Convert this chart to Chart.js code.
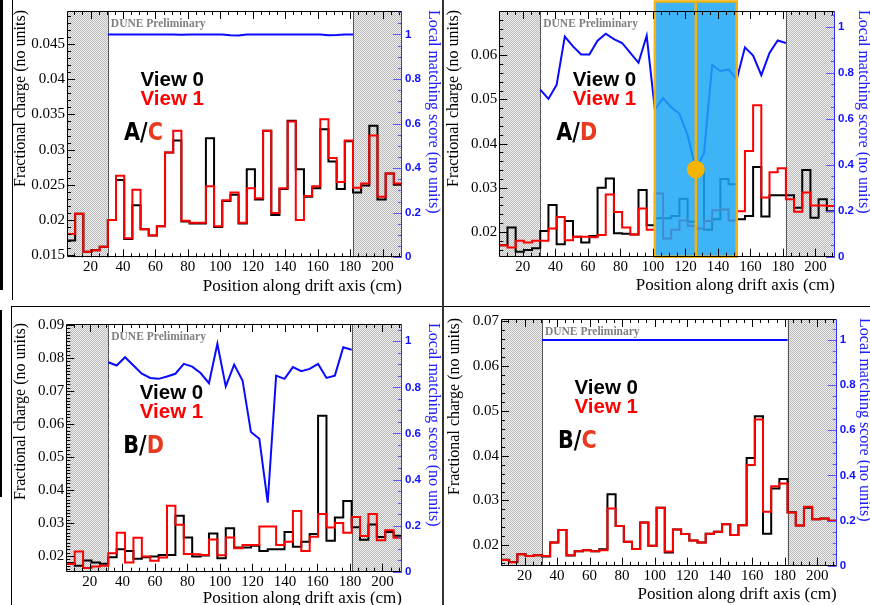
<!DOCTYPE html>
<html><head><meta charset="utf-8">
<script src="https://cdn.jsdelivr.net/npm/chart.js@4.4.1/dist/chart.umd.min.js"></script>
<style>
html,body{margin:0;padding:0;background:#fff}
body{width:870px;height:605px;overflow:hidden;position:relative}
canvas{position:absolute}
.ln{position:absolute;background:#000}
</style></head><body>
<canvas id="c1"></canvas><canvas id="c2"></canvas><canvas id="c3"></canvas><canvas id="c4"></canvas>
<div class="ln" style="left:0;top:0;width:3px;height:290px"></div>
<div class="ln" style="left:12px;top:0;width:1px;height:300px"></div>
<div class="ln" style="left:0;top:310px;width:2px;height:187px"></div>
<div class="ln" style="left:11px;top:306px;width:1px;height:299px"></div>
<div class="ln" style="left:11px;top:306px;width:859px;height:1px"></div>
<div class="ln" style="left:442px;top:0;width:2px;height:605px;background:#333"></div>
<script>
// ---------------- data ----------------
const binLow = 5.5, binHigh = 212;          // histogram range (cm)
const vetoLowBins = 5, vetoHighBins = 6;     // hatched bins at each end
const xTicks = [20,40,60,80,100,120,140,160,180,200];
const scoreTicks = [0,0.2,0.4,0.6,0.8,1];

const ticksAC = [0.015,0.02,0.025,0.03,0.035,0.04,0.045];
const blackAC = [0.0171,0.0209,0.0155,0.0157,0.0162, 0.0200,0.0257,0.0173,0.0221,0.0187,
  0.0178,0.0191,0.0296,0.0313,0.0198, 0.0195,0.0195,0.0316,0.0190,0.0227,
  0.0236,0.0195,0.0272,0.0229,0.0327, 0.0207,0.0244,0.0341,0.0272,0.0233,
  0.0245,0.0329,0.0283,0.0244,0.0312, 0.0239,0.0249,0.0334,0.0229,0.0266, 0.0250];
const redAC = [0.0180,0.0209,0.0155,0.0157,0.0162, 0.0200,0.0263,0.0174,0.0243,0.0187,
  0.0178,0.0191,0.0296,0.0327,0.0199, 0.0196,0.0196,0.0248,0.0191,0.0228,
  0.0239,0.0196,0.0245,0.0231,0.0327, 0.0210,0.0245,0.0340,0.0200,0.0234,
  0.0248,0.0343,0.0288,0.0254,0.0313, 0.0246,0.0252,0.0320,0.0233,0.0266, 0.0252];
const scoreAC = [1,1,1,1,1,1,1,1,1,0.998,1,1,1,1,1,0.996,0.995,1,1,1,1,1,1,1,1,1,1,0.996,0.997,1,1];

const ticksAD = [0.02,0.03,0.04,0.05,0.06];
const blackAD = [0.0170,0.0210,0.0155,0.0159,0.0163, 0.0202,0.0261,0.0172,0.0225,0.0189,
  0.0176,0.0191,0.0300,0.0321,0.0197, 0.0196,0.0194,0.0295,0.0215,0.0231,
  0.0231,0.0236,0.0275,0.0223,0.0336, 0.0205,0.0229,0.0320,0.0308,0.0229,
  0.0236,0.0347,0.0235,0.0283,0.0283, 0.0283,0.0255,0.0340,0.0232,0.0274, 0.0247];
const redAD = [0.0170,0.0165,0.0180,0.0176,0.0180, 0.0180,0.0208,0.0234,0.0181,0.0189,
  0.0189,0.0188,0.0193,0.0285,0.0245, 0.0210,0.0194,0.0253,0.0205,0.0287,
  0.0185,0.0205,0.0226,0.0214,0.0208, 0.0225,0.0249,0.0251,0.0226,0.0247,
  0.0383,0.0487,0.0278,0.0335,0.0344, 0.0274,0.0246,0.0289,0.0260,0.0260, 0.0259];
const scoreAD = [0.726,0.686,0.747,0.957,0.914,0.879,0.879,0.939,0.969,0.946,0.929,0.886,0.843,0.961,
  0.640,0.689,0.650,0.621,0.529,0.379,0.450,0.833,0.807,0.814,0.771,0.910,0.874,0.789,0.886,0.940,0.929];
const highlightEdgesAD = [19,24,29];   // bin-edge indices of the two highlighted windows
const highlightPointAD = 19;           // score point marked with a dot

const ticksBD = [0.02,0.03,0.04,0.05,0.06,0.07,0.08,0.09];
const blackBD = [0.0178,0.0170,0.0186,0.0180,0.0176,
  0.0196,0.0220,0.0215,0.0191,0.0196,0.0198,0.0203,0.0203,0.0322,0.0256,
  0.0198,0.0201,0.0268,0.0193,0.0284,0.0225,0.0225,0.0231,0.0215,0.0220,
  0.0220,0.0272,0.0228,0.0243,0.0266,0.0625,0.0246,0.0316,0.0366,
  0.0287,0.0249,0.0295,0.0257,0.0272,0.0261];
const redBD = [0.0175,0.0213,0.0163,0.0168,0.0170,
  0.0208,0.0270,0.0180,0.0255,0.0198,0.0185,0.0195,0.0352,0.0294,0.0206,
  0.0205,0.0203,0.0250,0.0202,0.0256,0.0223,0.0233,0.0233,0.0289,0.0289,
  0.0233,0.0243,0.0336,0.0215,0.0258,0.0327,0.0286,0.0300,0.0270,
  0.0318,0.0260,0.0327,0.0247,0.0278,0.0255];
const scoreBD = [0.909,0.895,0.931,0.895,0.859,0.841,0.837,0.847,0.859,0.902,0.890,0.862,0.818,0.989,0.804,
  0.899,0.830,0.606,0.577,0.300,0.851,0.837,0.888,0.870,0.880,0.902,0.841,0.851,0.974,0.963];

const ticksBC = [0.02,0.03,0.04,0.05,0.06,0.07];
const blackBC = [0.0168,0.0163,0.0180,0.0176,0.0178, 0.0175,0.0206,0.0234,0.0177,0.0187,
  0.0189,0.0187,0.0191,0.0314,0.0243, 0.0208,0.0192,0.0251,0.0199,0.0284,
  0.0184,0.0235,0.0225,0.0211,0.0206, 0.0226,0.0230,0.0247,0.0223,0.0245,
  0.0395,0.0488,0.0226,0.0327,0.0348, 0.0274,0.0244,0.0284,0.0258,0.0260, 0.0255];
const redBC = [0.0167,0.0162,0.0180,0.0176,0.0178, 0.0176,0.0206,0.0234,0.0178,0.0187,
  0.0189,0.0187,0.0189,0.0282,0.0243, 0.0208,0.0192,0.0251,0.0199,0.0284,
  0.0186,0.0235,0.0225,0.0211,0.0206, 0.0226,0.0230,0.0247,0.0223,0.0245,
  0.0379,0.0481,0.0275,0.0332,0.0338, 0.0273,0.0244,0.0286,0.0258,0.0260, 0.0255];
const scoreBC = [1,1,1,1,1,1,1,1,1,1,1,1,1,1,1,1,1,1,1,1,1,1,1,1,1,1,1,1,1,1,1];

// ---------------- helpers ----------------
const SERIF = "'Liberation Serif','Times New Roman',serif";
const SANS = "'Liberation Sans',Arial,sans-serif";
function binWidth(vals){ return (binHigh-binLow)/vals.length; }
function histPoints(vals){
  const w = binWidth(vals);
  const pts = vals.map((v,i)=>({x:binLow+i*w, y:v}));
  pts.push({x:binHigh, y:vals[vals.length-1]});
  return pts;
}
function vetoEdges(vals){
  const w = binWidth(vals);
  return [binLow+vetoLowBins*w, binHigh-vetoHighBins*w];
}
function scorePoints(vals, score){
  const [lo,hi] = vetoEdges(vals);
  const n = score.length;
  return score.map((s,i)=>({x:lo+i*(hi-lo)/(n-1), y:s}));
}
function fmt(v){ return String(parseFloat(v.toFixed(4))); }

function makePattern(ctx){
  const c=document.createElement('canvas'); c.width=c.height=4;
  const g=c.getContext('2d'); g.fillStyle='#f1f1f1'; g.fillRect(0,0,4,4);
  g.fillStyle='#b9b9b9';
  for(let i=0;i<4;i++)for(let j=0;j<4;j++) if((i+j)%2===0) g.fillRect(i,j,1,1);
  return ctx.createPattern(c,'repeat');
}

function makeDecor(cfg){
  return {
    id:'decor'+cfg.id,
    beforeDatasetsDraw(chart){
      const {ctx, chartArea:a, scales:{x}} = chart;
      const [lo,hi] = vetoEdges(cfg.black);
      const pl = x.getPixelForValue(lo), ph = x.getPixelForValue(hi);
      ctx.save();
      ctx.fillStyle = makePattern(ctx);
      ctx.fillRect(a.left, a.top, pl-a.left, a.bottom-a.top);
      ctx.fillRect(ph, a.top, a.right-ph, a.bottom-a.top);
      ctx.strokeStyle='#555555'; ctx.lineWidth=1;
      ctx.beginPath();
      ctx.moveTo(Math.round(pl)+0.5, a.top); ctx.lineTo(Math.round(pl)+0.5, a.bottom);
      ctx.moveTo(Math.round(ph)+0.5, a.top); ctx.lineTo(Math.round(ph)+0.5, a.bottom);
      ctx.stroke();
      ctx.restore();
    },
    afterDatasetsDraw(chart){
      const {ctx, chartArea:a, scales:{x,y1}} = chart;
      if(cfg.highlight){
        const w = binWidth(cfg.black);
        const ex = cfg.highlight.edges.map(e=>x.getPixelForValue(binLow+e*w));
        ctx.save();
        ctx.fillStyle='rgba(28,166,245,0.85)';
        ctx.fillRect(ex[0], 1.5, ex[2]-ex[0], a.bottom-1.5);
        ctx.strokeStyle='#f2b20f'; ctx.lineWidth=2.5;
        ctx.strokeRect(ex[0], 1.5, ex[2]-ex[0], a.bottom-1.5);
        ctx.beginPath(); ctx.moveTo(ex[1],1.5); ctx.lineTo(ex[1],a.bottom); ctx.stroke();
        const sp = scorePoints(cfg.black, cfg.score)[cfg.highlight.point];
        ctx.fillStyle='#f5b400';
        ctx.beginPath(); ctx.arc(x.getPixelForValue(sp.x), y1.getPixelForValue(sp.y), 9, 0, Math.PI*2); ctx.fill();
        ctx.restore();
      }
    },
    afterDraw(chart){
      const {ctx, chartArea:a, scales:{x,y,y1}} = chart;
      const [lo] = vetoEdges(cfg.black);
      const pl = x.getPixelForValue(lo);
      ctx.save();
      // tick marks
      ctx.lineWidth=1; ctx.strokeStyle='#000';
      ctx.beginPath();
      for(let v=Math.ceil(x.min/5)*5; v<=x.max; v+=5){
        const px=Math.round(x.getPixelForValue(v))+0.5;
        const len = v%20===0 ? 8 : 4;
        ctx.moveTo(px,a.bottom); ctx.lineTo(px,a.bottom-len);
        ctx.moveTo(px,a.top); ctx.lineTo(px,a.top+len);
      }
      for(let k=Math.ceil(y.min/cfg.yMinor-1e-6); k*cfg.yMinor<=y.max+1e-9; k++){
        const v=k*cfg.yMinor, r=v/cfg.yMajor;
        const py=Math.round(y.getPixelForValue(v))+0.5;
        const len = Math.abs(r-Math.round(r))<1e-6 ? 8 : 4;
        ctx.moveTo(a.left,py); ctx.lineTo(a.left+len,py);
      }
      ctx.stroke();
      ctx.strokeStyle='#5a5aff';
      ctx.beginPath();
      for(let k=0; k*0.05<=y1.max+1e-9; k++){
        const v=k*0.05;
        const py=Math.round(y1.getPixelForValue(v))+0.5;
        const len = k%4===0 ? 9 : 4;
        ctx.moveTo(a.right,py); ctx.lineTo(a.right-len,py);
      }
      ctx.stroke();
      // frame
      ctx.strokeStyle='#000';
      ctx.beginPath();
      const L=Math.round(a.left)+0.5, R=Math.round(a.right)-0.5, T=Math.round(a.top)+0.5, B=Math.round(a.bottom)-0.5;
      ctx.moveTo(R,T); ctx.lineTo(L,T); ctx.lineTo(L,B); ctx.lineTo(R,B);
      ctx.stroke();
      ctx.strokeStyle='#3030ff';
      ctx.beginPath(); ctx.moveTo(R,T); ctx.lineTo(R,B); ctx.stroke();
      // annotations
      ctx.textBaseline='middle'; ctx.textAlign='left';
      ctx.fillStyle='#808080'; ctx.font="bold 11.5px "+SERIF;
      ctx.fillText('DUNE Preliminary', pl+3, a.top+13.5);
      ctx.font="bold 20.5px "+SANS;
      ctx.fillStyle='#000'; ctx.fillText('View 0', a.left+73.5, a.top+69.3);
      ctx.fillStyle='#ff0000'; ctx.fillText('View 1', a.left+73.5, a.top+88.8);
      ctx.save();
      ctx.translate(a.left+57, a.top+128.5); ctx.scale(0.83,1);
      ctx.textBaseline='alphabetic';
      ctx.font="bold 25px 'DejaVu Sans',sans-serif";
      ctx.fillStyle='#000'; ctx.fillText(cfg.tag[0],0,0);
      const tw=ctx.measureText(cfg.tag[0]).width;
      ctx.fillStyle='#e83a1e'; ctx.fillText(cfg.tag[1],tw,0);
      ctx.restore();
      // axis titles
      ctx.font="16px "+SERIF; ctx.fillStyle='#000';
      ctx.save(); ctx.translate(a.left-46, a.top-1); ctx.rotate(-Math.PI/2);
      ctx.textAlign='right'; ctx.fillText('Fractional charge (no units)',0,0); ctx.restore();
      ctx.save(); ctx.translate(a.right+cfg.rtx, a.top-1); ctx.rotate(Math.PI/2);
      ctx.textAlign='left'; ctx.fillStyle='#2020ff'; ctx.fillText('Local matching score (no units)',0,0); ctx.restore();
      ctx.font="17px "+SERIF; ctx.textAlign='right'; ctx.fillStyle='#000';
      ctx.fillText('Position along drift axis (cm)', a.right, a.bottom+cfg.xtd);
      ctx.restore();
    }
  };
}

const panels = [
  {id:'c1', left:0,   top:0,   w:442, h:303, L:67,   T:11,  R:402,   B:257.3, yMin:0.0147, yMax:0.0497, y1Max:1.105,
   yTicks:ticksAC, yMajor:0.005, yMinor:0.001, black:blackAC, red:redAC, score:scoreAC, tag:['A/','C'], rtx:31, xtd:29.4},
  {id:'c2', left:443, top:0,   w:427, h:303, L:56.3, T:8.3, R:392,   B:256.7, yMin:0.0144, yMax:0.0700, y1Max:1.068,
   yTicks:ticksAD, yMajor:0.01, yMinor:0.002, black:blackAD, red:redAD, score:scoreAD, tag:['A/','D'], rtx:28, xtd:29,
   highlight:{edges:highlightEdgesAD, point:highlightPointAD}},
  {id:'c3', left:0,   top:307, w:442, h:298, L:66.3, T:17,  R:402,   B:264.7, yMin:0.0152, yMax:0.0903, y1Max:1.075,
   yTicks:ticksBD, yMajor:0.01, yMinor:0.001, black:blackBD, red:redBD, score:scoreBD, tag:['B/','D'], rtx:31, xtd:27},
  {id:'c4', left:443, top:307, w:427, h:298, L:58,   T:12,  R:393.7, B:258.7, yMin:0.01545,yMax:0.0705, y1Max:1.0925,
   yTicks:ticksBC, yMajor:0.01, yMinor:0.002, black:blackBC, red:redBC, score:scoreBC, tag:['B/','C'], rtx:28, xtd:29.3}
];

for(const p of panels){
  const cv=document.getElementById(p.id);
  cv.width=p.w; cv.height=p.h;
  cv.style.left=p.left+'px'; cv.style.top=p.top+'px';
  cv.style.width=p.w+'px'; cv.style.height=p.h+'px';
  new Chart(cv.getContext('2d'), {
    type:'line',
    data:{datasets:[
      {data:histPoints(p.black), borderColor:'#000000', borderWidth:2, stepped:'before', pointRadius:0, fill:false, yAxisID:'y', order:3},
      {data:histPoints(p.red), borderColor:'#ff0000', borderWidth:2, stepped:'before', pointRadius:0, fill:false, yAxisID:'y', order:2},
      {data:scorePoints(p.black,p.score), borderColor:'#0a0aff', borderWidth:2, tension:0, pointRadius:0, fill:false, yAxisID:'y1', order:1}
    ]},
    options:{
      responsive:false, animation:false, events:[],
      devicePixelRatio:1,
      layout:{padding:{top:p.T, left:0, right:0, bottom:0}},
      plugins:{legend:{display:false}, tooltip:{enabled:false}},
      scales:{
        x:{type:'linear', min:binLow, max:binHigh,
           afterBuildTicks:s=>{s.ticks=xTicks.map(v=>({value:v}));},
           afterFit:s=>{s.height=p.h-p.B;},
           ticks:{font:{family:SERIF,size:15}, color:'#000', padding:1, maxRotation:0, autoSkip:false, callback:v=>String(v)},
           grid:{display:false, drawTicks:false}, border:{display:false}},
        y:{type:'linear', position:'left', min:p.yMin, max:p.yMax,
           afterBuildTicks:s=>{s.ticks=p.yTicks.map(v=>({value:v}));},
           afterFit:s=>{s.width=p.L;},
           ticks:{font:{family:SERIF,size:15}, color:'#000', padding:2, autoSkip:false, callback:v=>fmt(v)},
           grid:{display:false, drawTicks:false}, border:{display:false}},
        y1:{type:'linear', position:'right', min:0, max:p.y1Max,
           afterBuildTicks:s=>{s.ticks=scoreTicks.map(v=>({value:v}));},
           afterFit:s=>{s.width=p.w-p.R;},
           ticks:{font:{family:SANS,size:11.5,weight:'bold'}, color:'#1010ff', padding:3, autoSkip:false, callback:v=>fmt(v)},
           grid:{display:false, drawTicks:false}, border:{display:false}}
      }
    },
    plugins:[makeDecor(p)]
  });
}
</script>
</body></html>
